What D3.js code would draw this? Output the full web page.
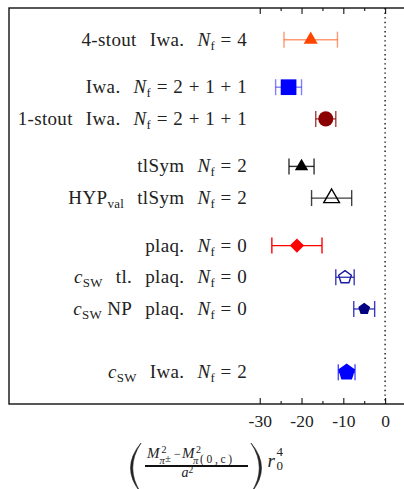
<!DOCTYPE html>
<html>
<head>
<meta charset="utf-8">
<script src="https://cdn.jsdelivr.net/npm/d3@7"></script>
<style>
  body { margin: 0; background: #fff; }
  text { font-family: "Liberation Serif", "DejaVu Serif", serif; fill: #222; }
</style>
</head>
<body>
<div id="canvas"></div>
<script>
// chart data
var methods = ["4-stout|Iwa.", "Iwa.", "1-stout|Iwa.", "tlSym", "HYP_val|tlSym",
               "plaq.", "c_SW|tl.|plaq.", "c_SW NP|plaq.", "c_SW|Iwa."];
var nf = ["4", "2+1+1", "2+1+1", "2", "2", "0", "0", "0", "2"];
var rows = [0, 1.5, 2.5, 4, 5, 6.5, 7.5, 8.5, 10.5];
var values = [-17.8, -23.1, -14.2, -20.0, -12.8, -21.1, -9.6, -5.0, -9.2];
var errors = [6.4, 3.1, 2.4, 3.0, 4.8, 6.0, 2.2, 2.5, 2.0];
var majorTicks = [-30, -20, -10, 0];
var minorTicks = [-25, -15, -5];

// Set the dimensions of the diagram
var width = 404, height = 489;
var box = {left: 9, top: 8, right: 406, bottom: 404};

// a pentagon symbol, d3 has none
var symbolPentagon = {
  draw: function(ctx, size) {
    var r = Math.sqrt(size / (2.5 * Math.sin(2 * Math.PI / 5)));
    for (var k = 0; k < 5; k++) {
      var a = -Math.PI / 2 + k * 2 * Math.PI / 5;
      if (k === 0) ctx.moveTo(r * Math.cos(a), r * Math.sin(a));
      else ctx.lineTo(r * Math.cos(a), r * Math.sin(a));
    }
    ctx.closePath();
  }
};

// look of each entry
var looks = [
  {sym: d3.symbolTriangle, size: 85, fill: "#ff4500", stroke: "none", err: "#ff4500", eo: 0.55},
  {sym: d3.symbolSquare, size: 246, fill: "#0000ff", stroke: "none", err: "#0000ff", eo: 0.5},
  {sym: d3.symbolCircle, size: 177, fill: "#8b0000", stroke: "none", err: "#8b0000", eo: 0.75},
  {sym: d3.symbolTriangle, size: 78, fill: "#000", stroke: "none", err: "#000", eo: 0.8},
  {sym: d3.symbolTriangle, size: 107, fill: "none", stroke: "#000", err: "#000", eo: 0.75},
  {sym: d3.symbolSquare, size: 102, fill: "#ff0000", stroke: "none", err: "#ff0000", eo: 1, rot: 45},
  {sym: symbolPentagon, size: 106, fill: "none", stroke: "#1a1aa0", err: "#1a1ab0", eo: 0.85},
  {sym: symbolPentagon, size: 92, fill: "#000080", stroke: "none", err: "#1a1ab0", eo: 0.85},
  {sym: symbolPentagon, size: 190, fill: "#0000ff", stroke: "none", err: "#0000ff", eo: 0.7}
];

var svg = d3.select("#canvas").append("svg")
    .attr("width", width)
    .attr("height", height);

var x = d3.scaleLinear().domain([-90, 5]).range([box.left, box.right]);
var y = d3.scaleLinear().domain([-1, 11.5]).range([box.top, box.bottom]);

// ****************** frame and axes ***************************

svg.append("line")
    .attr("x1", x(0)).attr("x2", x(0))
    .attr("y1", box.top).attr("y2", box.bottom)
    .attr("stroke", "#222").attr("stroke-width", 1.5)
    .attr("stroke-dasharray", "1.4,3.2");

function styleTicks(g) {
  g.select(".domain").remove();
  g.selectAll("line").attr("stroke", "#111").attr("stroke-width", 1.1);
}

svg.append("g")
    .attr("transform", "translate(0," + box.bottom + ")")
    .call(d3.axisBottom(x).tickValues(majorTicks).tickSizeInner(-6).tickSizeOuter(0)
          .tickFormat(function(d) { return String(d); }))
    .call(styleTicks)
    .call(function(g) {
      g.attr("font-family", null);
      g.selectAll("text").attr("y", 11).attr("dy", "0.71em")
        .style("font-size", "17.5px").attr("fill", "#222");
    });

svg.append("g")
    .attr("transform", "translate(0," + box.bottom + ")")
    .call(d3.axisBottom(x).tickValues(minorTicks).tickSizeInner(-3).tickSizeOuter(0).tickFormat(""))
    .call(styleTicks);

svg.append("g")
    .attr("transform", "translate(0," + box.top + ")")
    .call(d3.axisTop(x).tickValues(majorTicks).tickSizeInner(-6).tickSizeOuter(0).tickFormat(""))
    .call(styleTicks);

svg.append("g")
    .attr("transform", "translate(0," + box.top + ")")
    .call(d3.axisTop(x).tickValues(minorTicks).tickSizeInner(-3).tickSizeOuter(0).tickFormat(""))
    .call(styleTicks);

svg.append("rect")
    .attr("x", box.left).attr("y", box.top)
    .attr("width", box.right - box.left).attr("height", box.bottom - box.top)
    .attr("fill", "none").attr("stroke", "#111").attr("stroke-width", 1.4);

// ****************** error bars and markers ***************************

var entries = values.map(function(v, i) {
  return {v: v, e: errors[i], row: rows[i], look: looks[i]};
});

var bar = svg.selectAll("g.err")
    .data(entries)
  .enter().append("g")
    .attr("class", "err")
    .attr("stroke", function(d) { return d.look.err; })
    .attr("stroke-opacity", function(d) { return d.look.eo; })
    .attr("stroke-width", 1.4);

bar.append("line")
    .attr("x1", function(d) { return x(d.v - d.e); })
    .attr("x2", function(d) { return x(d.v + d.e); })
    .attr("y1", function(d) { return y(d.row); })
    .attr("y2", function(d) { return y(d.row); });

[-1, 1].forEach(function(s) {
  bar.append("line")
      .attr("x1", function(d) { return x(d.v + s * d.e); })
      .attr("x2", function(d) { return x(d.v + s * d.e); })
      .attr("y1", function(d) { return y(d.row) - 8; })
      .attr("y2", function(d) { return y(d.row) + 8; });
});

svg.selectAll("path.mark")
    .data(entries)
  .enter().append("path")
    .attr("class", "mark")
    .attr("d", function(d) { return d3.symbol(d.look.sym, d.look.size)(); })
    .attr("transform", function(d) {
      return "translate(" + x(d.v) + "," + y(d.row) + ")" + (d.look.rot ? " rotate(" + d.look.rot + ")" : "");
    })
    .attr("fill", function(d) { return d.look.fill; })
    .attr("stroke", function(d) { return d.look.stroke; })
    .attr("stroke-width", 1.4);

// ****************** row labels ***************************

var fs = 19, gap = 13, subDrop = 4, opGap = 5.5;

// turn "c_SW NP|plaq." into pieces: {t, it, sub, dx}
function pieces(m, n) {
  var out = [];
  m.split("|").forEach(function(part, j) {
    part.split(" ").forEach(function(word, k) {
      var dx = (j > 0 && k === 0) ? gap : 0;
      if (k > 0) out.push({t: " "});
      var mm = word.match(/^(\w+)_(\w+)$/);
      if (mm) {
        out.push({t: mm[1], it: mm[1].length === 1, dx: dx});
        out.push({t: mm[2], sub: true});
      } else {
        out.push({t: word, dx: dx});
      }
    });
  });
  out.push({t: "N", it: true, dx: gap});
  out.push({t: "f", sub: true});
  out.push({t: "=", dx: opGap});
  n.split("").forEach(function(c) { out.push({t: c, dx: opGap}); });
  return out;
}

methods.forEach(function(m, i) {
  var t = svg.append("text")
      .attr("x", 247)
      .attr("y", y(rows[i]) + 6)
      .attr("text-anchor", "end")
      .style("font-size", fs + "px")
      .style("letter-spacing", "0.35px")
      .style("white-space", "pre");
  var low = false;
  pieces(m, nf[i]).forEach(function(p) {
    var s = t.append("tspan").text(p.t);
    if (p.dx) s.attr("dx", p.dx);
    if (p.it) s.style("font-style", "italic");
    if (p.sub) s.style("font-size", (fs * 0.68) + "px");
    if (p.sub && !low) { s.attr("dy", subDrop); low = true; }
    if (!p.sub && low) { s.attr("dy", -subDrop); low = false; }
  });
});

// ****************** axis title ***************************

var tt = svg.append("g");
function put(tx, ty, str, size, italic, len) {
  var t = tt.append("text").attr("x", tx).attr("y", ty).text(str)
    .style("font-size", size + "px")
    .style("font-style", italic ? "italic" : "normal");
  if (len) t.attr("textLength", len).attr("lengthAdjust", "spacing");
}
// parentheses, drawn as thin crescents
tt.append("path").attr("d", "M141,443 Q120,468 141,493 Q124.5,468 141,443 Z").attr("fill", "#222").attr("stroke", "#222").attr("stroke-width", 0.6);
tt.append("path").attr("d", "M251,443 Q272,468 251,493 Q267.5,468 251,443 Z").attr("fill", "#222").attr("stroke", "#222").attr("stroke-width", 0.6);
// numerator
put(147, 458, "M", 15, true);
put(161.5, 453, "2", 10, false);
put(159.5, 464, "π", 10.5, true);
put(165, 462, "±", 11, false);
put(174, 458, "−", 12, false);
put(182, 458, "M", 15, true);
put(196, 453, "2", 10, false);
put(193, 464, "π", 10.5, true);
put(200, 462.5, "(0,c)", 11.5, false, 32);
// fraction bar
tt.append("line").attr("x1", 145).attr("x2", 248).attr("y1", 466).attr("y2", 466)
  .attr("stroke", "#111").attr("stroke-width", 1.8);
// denominator
put(181.5, 476.5, "a", 14, true);
put(188.5, 472.5, "2", 9.5, false);
// r0^4
put(267.5, 466.5, "r", 19, true);
put(276.5, 456, "4", 13, false);
put(276.5, 469.5, "0", 13, false);
</script>
</body>
</html>
